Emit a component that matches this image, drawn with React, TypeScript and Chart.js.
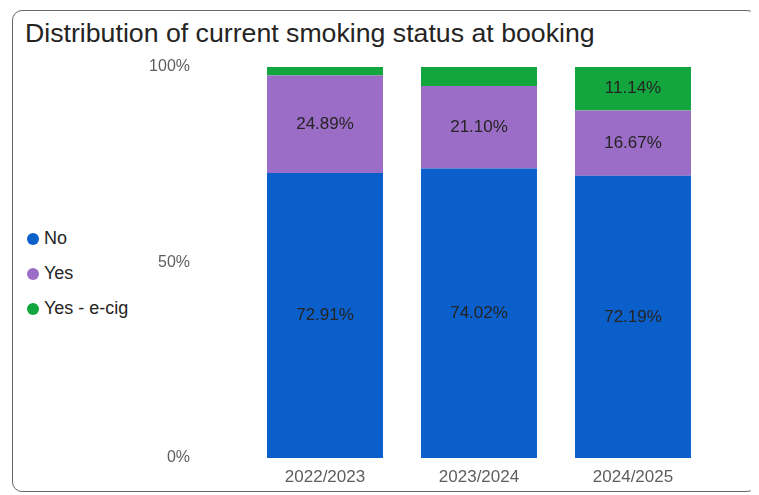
import React, { useEffect, useRef } from "react";
import { Chart, registerables } from "chart.js";

Chart.register(...registerables);

const categories = ["2022/2023", "2023/2024", "2024/2025"];
const seriesNames = ["No", "Yes", "Yes - e-cig"];
const noValues = [72.91, 74.02, 72.19];
const yesValues = [24.89, 21.1, 16.67];
const ecigValues = [2.2, 4.88, 11.14];
const yTicks = [0, 50, 100];
const colors = ["#0B5FCB", "#9B6DC6", "#13A53E"];

const FONT = "'Liberation Sans', Arial, sans-serif";

const labelPlugin = {
  id: "segLabels",
  afterDatasetsDraw(chart: any) {
    const ctx = chart.ctx;
    ctx.save();
    ctx.font = `17px ${FONT}`;
    ctx.fillStyle = "#252423";
    ctx.textAlign = "center";
    ctx.textBaseline = "middle";
    chart.data.datasets.forEach((ds: any, di: number) => {
      const meta = chart.getDatasetMeta(di);
      meta.data.forEach((bar: any, i: number) => {
        const v = ds.data[i];
        if (v < 8) return;
        const y = (bar.y + bar.base) / 2;
        ctx.fillText(v.toFixed(2) + "%", bar.x, y);
      });
    });
    ctx.restore();
  },
};

export default function App() {
  const ref = useRef<HTMLCanvasElement>(null);
  useEffect(() => {
    const chart = new Chart(ref.current!, {
      type: "bar",
      data: {
        labels: categories,
        datasets: [noValues, yesValues, ecigValues].map((d, i) => ({
          label: seriesNames[i],
          data: d,
          backgroundColor: colors[i],
          borderWidth: 0,
          categoryPercentage: 0.753,
          barPercentage: 1,
        })),
      },
      options: {
        animation: false,
        responsive: true,
        maintainAspectRatio: false,
        layout: { padding: { top: 11, right: 13, left: 0, bottom: 0 } },
        plugins: {
          legend: { display: false },
          tooltip: { enabled: false },
        },
        scales: {
          x: {
            stacked: true,
            grid: { display: false },
            border: { display: false },
            ticks: { color: "#605E5C", font: { size: 17, family: FONT }, padding: 1 },
            afterFit: (s: any) => {
              s.height = 33;
              s.paddingLeft = 0;
              s.paddingRight = 0;
            },
          },
          y: {
            stacked: true,
            min: 0,
            max: 100,
            grid: { display: false },
            border: { display: false },
            afterBuildTicks: (s: any) => {
              s.ticks = yTicks.map((v) => ({ value: v }));
            },
            ticks: {
              color: "#605E5C",
              font: { size: 16, family: FONT },
              padding: 50,
              callback: (v: any) => v + "%",
            },
            afterFit: (s: any) => {
              s.width = 125;
              s.paddingTop = 0;
              s.paddingBottom = 0;
            },
          },
        },
      },
      plugins: [labelPlugin],
    });
    return () => chart.destroy();
  }, []);

  return (
    <div
      style={{
        position: "relative",
        width: 745,
        height: 482,
        marginLeft: 4,
        marginTop: 2,
        border: "1px solid #666",
        borderRadius: 10,
        boxSizing: "border-box",
        fontFamily: FONT,
        background: "#fff",
      }}
    >
      <div
        style={{
          position: "absolute",
          left: 12,
          top: 7,
          fontSize: 26.7,
          color: "#252423",
          whiteSpace: "nowrap",
        }}
      >
        Distribution of current smoking status at booking
      </div>
      <div style={{ position: "absolute", left: 14, top: 210 }}>
        {seriesNames.map((n, i) => (
          <div
            key={n}
            style={{ display: "flex", alignItems: "center", height: 35, fontSize: 18, color: "#252423" }}
          >
            <span
              style={{
                display: "inline-block",
                width: 12,
                height: 12,
                borderRadius: 6,
                background: colors[i],
                marginRight: 5,
              }}
            />
            {n}
          </div>
        ))}
      </div>
      <div style={{ position: "absolute", left: 110, top: 45, width: 600, height: 435 }}>
        <canvas ref={ref} />
      </div>
    </div>
  );
}
